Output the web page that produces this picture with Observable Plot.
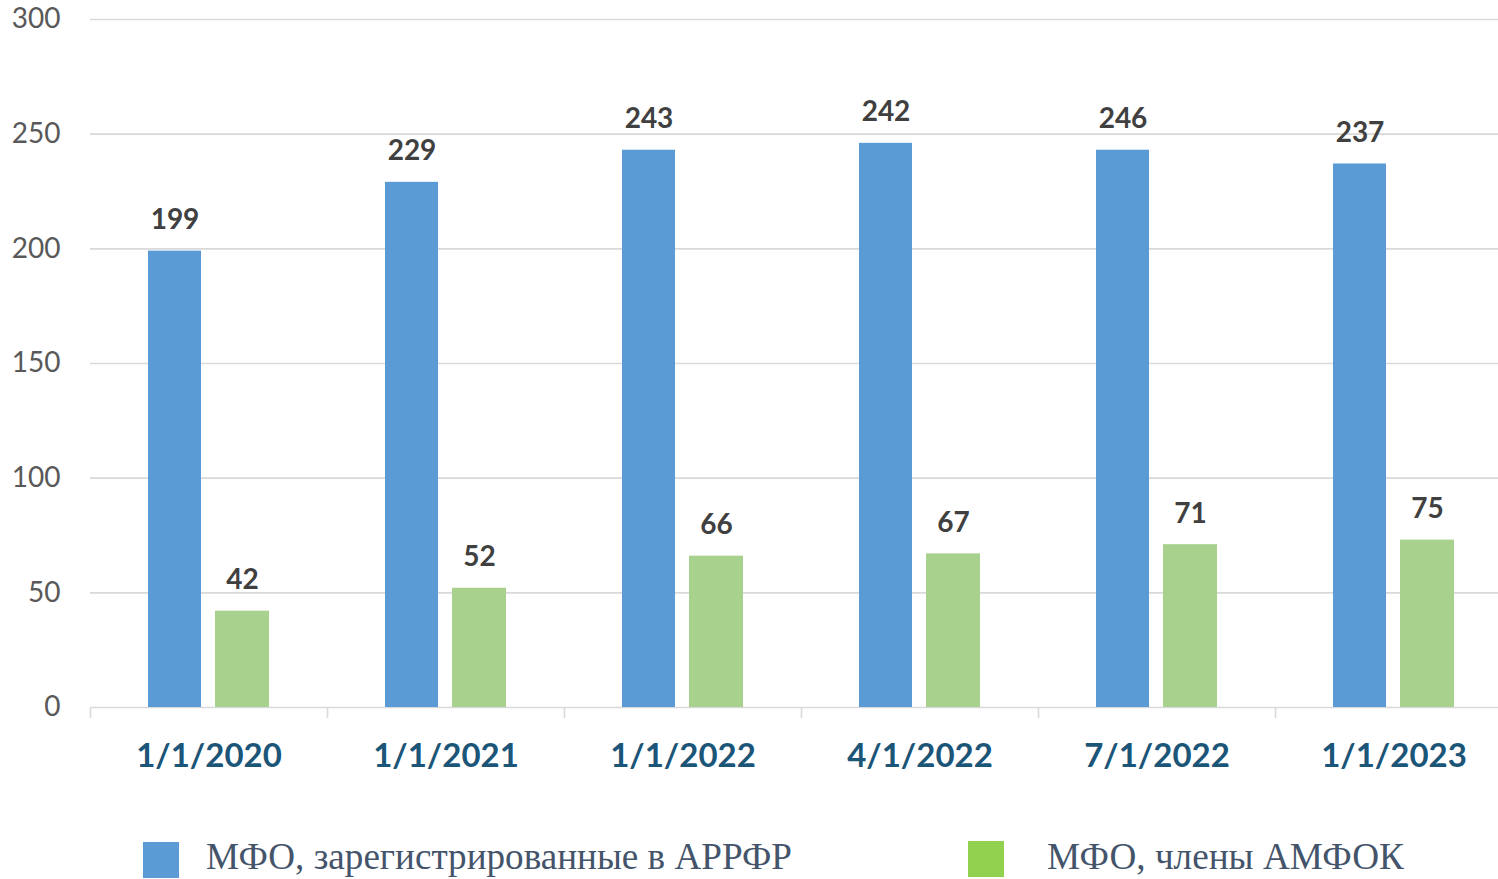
<!DOCTYPE html>
<html><head><meta charset="utf-8">
<script src="https://cdn.jsdelivr.net/npm/d3@7"></script>
<script src="https://cdn.jsdelivr.net/npm/@observablehq/plot@0.6"></script>
<style>
html,body{margin:0;padding:0;background:#fff;overflow:hidden;width:1498px;height:879px;}
#chart{position:absolute;left:0;top:0;width:1512px;}
#chart svg{max-width:none !important;width:1512px !important;height:800px !important;}
.lg-text{position:absolute;font-family:"Liberation Serif","Times New Roman",serif;color:#44546A;white-space:nowrap;line-height:1;}
.sw{position:absolute;width:36px;height:36px;}
</style></head><body>
<div id="chart"></div>
<div id="legend"></div>
<script>
const dates = ["1/1/2020","1/1/2021","1/1/2022","4/1/2022","7/1/2022","1/1/2023"];
const seriesNames = ["МФО, зарегистрированные в АРРФР","МФО, члены АМФОК"];
const registered = [199,229,243,246,243,237];
const registeredLabels = ["199","229","243","242","246","237"];
const members = [42,52,66,67,71,73];
const memberLabels = ["42","52","66","67","71","75"];
const yTicks = [0,50,100,150,200,250,300];
const barColors = ["#5B9BD5","#A9D18E"];
const legendColors = ["#5B9BD5","#92D050"];

const rows = dates.map((d,i)=>({date:d, reg:registered[i], regLabel:registeredLabels[i], mem:members[i], memLabel:memberLabels[i]}));

const chart = Plot.plot({
  width: 1512, height: 800,
  marginTop: 19, marginBottom: 93, marginLeft: 90, marginRight: 0,
  style: {fontFamily: "Lato, sans-serif", background: "transparent", overflow: "visible", maxWidth: "none"},
  x: {domain: dates, padding: 0, label: null},
  y: {domain: [0,300], label: null},
  marks: [
    Plot.ruleY(yTicks, {stroke:"#d9d9d9", strokeWidth:1.6}),
    Plot.ruleX(dates, {x: d=>d, y1: 0, y2: 0, insetBottom: -11, dx: -118.5, stroke:"#d9d9d9", strokeWidth:1.6}),
    Plot.barY(rows, {x:"date", y:"reg", fill:barColors[0], insetLeft:58, insetRight:126}),
    Plot.barY(rows, {x:"date", y:"mem", fill:barColors[1], insetLeft:125, insetRight:58}),
    Plot.text(rows, {x:"date", y:"reg", text:"regLabel", dx:-34, dy:-31, fontSize:28, fontWeight:"bold", fill:"#404040"}),
    Plot.text(rows, {x:"date", y:"mem", text:"memLabel", dx:33.5, dy:-31, fontSize:28, fontWeight:"bold", fill:"#404040"}),
    Plot.axisY({ticks: yTicks, tickSize:0, tickPadding:30, fontSize:28, color:"#595959", label:null}),
    Plot.axisX({tickSize:0, tickPadding:36, fontSize:33, fontWeight:"bold", color:"#1B5577", label:null})
  ]
});
document.getElementById("chart").appendChild(chart);

// legend
const legend = document.getElementById("legend");
const lg = [
  {sx:143, sy:842, tx:206, target:586, size:35},
  {sx:968, sy:841, tx:1047, target:357, size:37}
];
seriesNames.forEach((name,i)=>{
  const sw = document.createElement("div");
  sw.className = "sw";
  sw.style.left = lg[i].sx+"px"; sw.style.top = lg[i].sy+"px";
  sw.style.background = legendColors[i];
  legend.appendChild(sw);
  const t = document.createElement("div");
  t.className = "lg-text";
  t.textContent = name;
  t.style.fontSize = lg[i].size+"px";
  t.style.left = lg[i].tx+"px";
  legend.appendChild(t);
  const w = t.getBoundingClientRect().width;
  const fs = lg[i].size * lg[i].target / w;
  t.style.fontSize = fs+"px";
  t.style.top = (870 - 0.86*fs)+"px";
});
</script>
</body></html>
